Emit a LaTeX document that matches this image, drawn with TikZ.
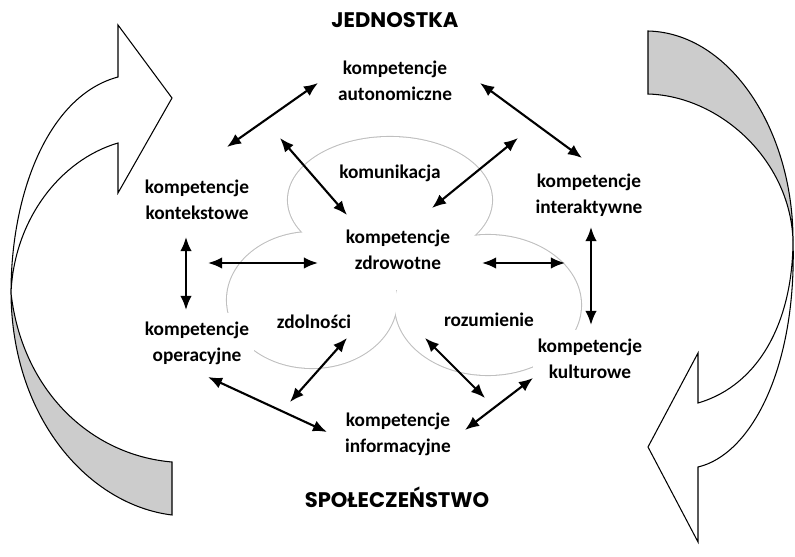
\documentclass[tikz,border=0pt]{standalone}
\usepackage{fontspec}
\setmainfont{Carlito}
\newfontfamily\titlefont{Poppins}
\usetikzlibrary{arrows.meta,calc}

\definecolor{ringgray}{HTML}{BFBFBF}
\definecolor{backgray}{HTML}{CCCCCC}

\tikzset{
  komp/.style = {align=center, font=\fontsize{11}{14.8}\selectfont\bfseries,
    fill=white, inner xsep=3pt, inner ysep=5pt},
  lobetext/.style = {font=\fontsize{11}{14.8}\selectfont\bfseries},
  title/.style = {font=\titlefont\fontsize{12}{14}\selectfont\bfseries},
  link/.style = {line width=1.2pt, {Latex[length=8pt,width=6.5pt]}-{Latex[length=8pt,width=6.5pt]}},
  bigarrow/.style = {draw=black, line width=0.6pt, line join=miter},
  ring/.style = {draw=ringgray, line width=1.2pt},
}

\begin{document}
\begin{tikzpicture}[x=0.02cm, y=-0.02cm]
    \useasboundingbox (0,0) rectangle (795,557);

    \draw[ring] (390,200) ellipse [x radius=102, y radius=63];
    \draw[ring] (312,300) ellipse [x radius=85, y radius=68];
    \draw[ring] (488,305) ellipse [x radius=93, y radius=70];
    \fill[white] (390,200) ellipse [x radius=102, y radius=63];
    \fill[white] (312,300) ellipse [x radius=85, y radius=68];
    \fill[white] (488,305) ellipse [x radius=93, y radius=70];

    \filldraw[bigarrow, fill=backgray] (11,293) .. controls (12,420) and (90,505) .. (172,515)
      -- (172,462) .. controls (90,455) and (22,390) .. (11,293) -- cycle;
    \filldraw[bigarrow, fill=white] (172,98) -- (118,25) -- (118,77)
      .. controls (50,95) and (11,190) .. (11,293)
      .. controls (14,220) and (60,160) .. (118,143) -- (118,193) -- cycle;
    \filldraw[bigarrow, fill=backgray] (648,31) .. controls (730,33) and (793,130) .. (793,240)
      .. controls (790,160) and (720,96) .. (648,94) -- cycle;
    \filldraw[bigarrow, fill=white] (793,240) .. controls (797,370) and (750,455) .. (698,467)
      -- (698,542) -- (648,447) -- (698,353) -- (698,403)
      .. controls (760,385) and (793,320) .. (793,240) -- cycle;

    \node[title] (ind) at (395,20) {JEDNOSTKA};
    \node[title] (soc) at (397,497) {SPOŁECZEŃSTWO};

    \node[komp] (aut) at (395,81) {kompetencje\\autonomiczne};
    \node[komp] (kon) at (197,200) {kompetencje\\kontekstowe};
    \node[komp] (int) at (589,195) {kompetencje\\interaktywne};
    \node[komp, inner ysep=11.5pt] (zdr) at (398,250) {kompetencje\\zdrowotne};
    \node[komp] (ope) at (197,343) {kompetencje\\operacyjne};
    \node[komp] (kul) at (590,359) {kompetencje\\kulturowe};
    \node[komp] (inf) at (398,434) {kompetencje\\informacyjne};

    \node[lobetext] (kom) at (390,173) {komunikacja};
    \node[lobetext] (zdo) at (314,322) {zdolności};
    \node[lobetext] (roz) at (489,320) {rozumienie};

    \coordinate (kom-l) at ($(kom) + (-110,-35)$);
    \coordinate (kom-r) at ($(kom) + (128,-35)$);
    \coordinate (zdr-l) at ($(zdr) + (-190,13)$);
    \coordinate (zdr-r) at ($(zdr) + (167,13)$);

    \draw[link] ($(aut) + (-77,2)$) -- ($(kon) + (30,-53)$);
    \draw[link] ($(aut) + (85,2)$) -- ($(int) + (-7,-37)$);
    \draw[link] (kom-l) -- ($(zdr) + (-51,-35)$);
    \draw[link] (kom-r) -- ($(zdr) + (34,-42)$);
    \draw[link] (zdr-l) -- ($(zdr) + (-80,13)$);
    \draw[link] ($(zdr) + (84,13)$) -- (zdr-r);
    \draw[link] ($(kon) + (-11,37)$) -- ($(ope) + (-11,-33)$);
    \draw[link] ($(int) + (2,32)$) -- ($(kul) + (1,-34)$);
    \draw[link] ($(zdo) + (33,16)$) -- ($(inf) + (-108,-32)$);
    \draw[link] ($(roz) + (-64,18)$) -- ($(inf) + (87,-36)$);
    \draw[link] ($(ope) + (11,34)$) -- ($(inf) + (-71,-2)$);
    \draw[link] ($(kul) + (-57,19)$) -- ($(inf) + (67,-4)$);
\end{tikzpicture}
\end{document}
